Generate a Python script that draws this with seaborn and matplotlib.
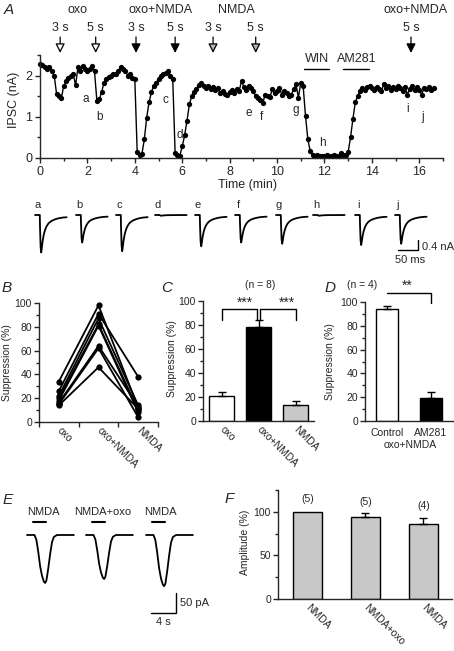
import numpy as np
import matplotlib
matplotlib.use('Agg')
import matplotlib.pyplot as plt
import pandas as pd
import seaborn as sns

# ---------------- data ----------------
# A: IPSC amplitude (nA), one point every 0.1 min from 0 to 16.6 min
ipsc_nA = [
    2.27, 2.25, 2.20, 2.15, 2.20, 2.10, 2.00, 1.55, 1.50, 1.45,
    1.75, 1.87, 1.95, 2.00, 2.05, 1.76, 2.20, 2.10, 2.24, 2.15,
    2.11, 2.15, 2.24, 2.10, 1.38, 1.42, 1.60, 1.83, 1.92, 1.97,
    2.00, 2.03, 2.05, 2.11, 2.20, 2.15, 2.11, 2.00, 2.05, 1.95,
    1.91, 0.15, 0.08, 0.10, 0.45, 0.98, 1.35, 1.60, 1.75, 1.83,
    1.91, 2.00, 2.03, 2.06, 2.11, 2.00, 1.91, 0.12, 0.08, 0.06,
    0.28, 0.55, 0.90, 1.30, 1.50, 1.60, 1.67, 1.78, 1.83, 1.75,
    1.71, 1.74, 1.68, 1.72, 1.65, 1.70, 1.58, 1.62, 1.55, 1.54,
    1.60, 1.65, 1.58, 1.68, 1.62, 1.87, 1.73, 1.66, 1.75, 1.70,
    1.62, 1.50, 1.46, 1.40, 1.34, 1.54, 1.50, 1.48, 1.67, 1.58,
    1.62, 1.71, 1.54, 1.63, 1.58, 1.50, 1.54, 1.67, 1.79, 1.46,
    1.83, 1.75, 1.02, 0.45, 0.16, 0.08, 0.06, 0.07, 0.05, 0.06,
    0.05, 0.07, 0.06, 0.05, 0.08, 0.06, 0.05, 0.12, 0.07, 0.08,
    0.15, 0.50, 0.95, 1.35, 1.50, 1.63, 1.70, 1.66, 1.72, 1.75,
    1.70, 1.65, 1.73, 1.68, 1.62, 1.79, 1.70, 1.74, 1.66, 1.72,
    1.68, 1.75, 1.70, 1.62, 1.72, 1.54, 1.68, 1.74, 1.66, 1.72,
    1.65, 1.54, 1.70, 1.68, 1.72, 1.66, 1.70,
]
arrow_times = [0.85, 2.35, 4.05, 5.7, 7.3, 9.1, 15.65]
arrow_durations = ['3 s', '5 s', '3 s', '5 s', '3 s', '5 s', '5 s']
arrow_fills = ['white', 'white', 'black', 'black', '#b4b4b4', '#b4b4b4', 'black']
group_names = ['oxo', 'oxo+NMDA', 'NMDA', 'oxo+NMDA']
group_times = [1.6, 5.1, 8.3, 15.85]
point_letters = list('abcdefghij')
point_letter_t = [1.95, 2.5, 5.3, 5.9, 8.8, 9.35, 10.8, 11.9, 15.5, 16.15]
point_letter_y = [1.44, 1.0, 1.4, 0.56, 1.1, 1.0, 1.17, 0.37, 1.2, 1.0]

# A insets: sample IPSCs (peak amplitude in nA) and the common waveform
trace_amp_nA = [1.5, 1.1, 1.45, 0.03, 1.25, 1.1, 1.15, 0.03, 1.2, 1.15]
ipsc_shape_ms = [-12, 0, 0.5, 2, 3.5, 5, 7, 10, 13, 17, 22, 29, 37, 46, 56, 67]
ipsc_shape = [0, 0, -0.3, -0.85, -1.0, -0.88, -0.7, -0.52, -0.4, -0.3,
              -0.22, -0.16, -0.12, -0.09, -0.07, -0.06]

# B: individual cells, suppression (%)
conditions = ['oxo', 'oxo+NMDA', 'NMDA']
cell_oxo = [34, 26, 22, 20, 18, 16, 15, 14]
cell_oxo_nmda = [98, 91, 87, 82, 81, 64, 62, 46]
cell_nmda = [12, 38, 14, 10, 8, 13, 4, 11]

# C: mean +/- SEM
c_mean = [21, 78.3, 13]
c_sem = [2.8, 6, 4]

# D
d_groups = ['Control', 'AM281']
d_mean = [94.4, 19.5]
d_sem = [2.2, 5]

# E: NMDA currents (pA) and waveform
nmda_labels = ['NMDA', 'NMDA+oxo', 'NMDA']
nmda_amp_pA = [120, 110, 128]
nmda_shape_s = [0, 1.2, 1.5, 1.8, 2.1, 2.4, 2.7, 2.9, 3.1, 3.4, 3.7, 4.0, 4.3, 4.8, 7.5]
nmda_shape = [0, 0, -0.1, -0.35, -0.65, -0.85, -0.97, -1.0, -0.95, -0.7,
              -0.4, -0.15, -0.04, 0, 0]

# F
f_groups = ['NMDA', 'NMDA+oxo', 'NMDA ']
f_mean = [100, 94.5, 85.5]
f_sem = [0, 4, 7]
f_n = ['(5)', '(5)', '(4)']

# ---------------- figure ----------------
sns.set_style('ticks')
plt.rcParams['font.family'] = ['Liberation Sans', 'DejaVu Sans']
plt.rcParams['axes.linewidth'] = 1.0

W, H = 454, 651
fig = plt.figure(figsize=(W / 100, H / 100), dpi=100)


def box(l, t, r, b):
    return fig.add_axes([l / W, 1 - b / H, (r - l) / W, (b - t) / H])


def ftext(x, y, s, **kw):
    kw.setdefault('ha', 'center')
    kw.setdefault('va', 'center')
    fig.text(x / W, 1 - y / H, s, **kw)


def panel_letter(x, y, s):
    ftext(x, y, s, fontsize=11, style='italic')


def small_axes(ax, size=7.5):
    sns.despine(ax=ax)
    ax.tick_params(which='major', direction='out', length=3.5, width=1, labelsize=size, pad=1.5)
    ax.tick_params(which='minor', direction='out', length=2, width=1)


def rotated_cats(ax, labels, size=7.5, boundary_ticks=False):
    n = len(labels)
    ax.set_xlim(-0.5, n - 0.5)
    if boundary_ticks:
        ax.set_xticks(np.arange(n + 1) - 0.5)
        ax.set_xticklabels([''] * (n + 1))
    else:
        ax.set_xticks([])
    ax.set_xticks(range(n), minor=True)
    ax.set_xticklabels(labels, minor=True)
    ax.tick_params(axis='x', which='minor', length=0, pad=5, labelsize=size)
    plt.setp(ax.get_xticklabels(minor=True), rotation=-45, ha='left', va='center',
             rotation_mode='anchor')


# ---- A: time course ----
axA = box(40, 55, 443, 158)
dfA = pd.DataFrame({'t': np.arange(len(ipsc_nA)) * 0.1, 'ipsc': ipsc_nA})
sns.lineplot(data=dfA, x='t', y='ipsc', ax=axA, color='k', lw=1, marker='o',
             markersize=3.8, markeredgewidth=0, errorbar=None, clip_on=False)
axA.set_xlim(0, 17)
axA.set_ylim(0, 2.5)
axA.set_xticks(range(0, 17, 2))
axA.set_xticks(range(0, 18), minor=True)
axA.set_yticks([0, 1, 2])
axA.set_yticks([0.5, 1.5, 2.5], minor=True)
sns.despine(ax=axA)
axA.tick_params(which='major', direction='out', length=3.5, width=1, labelsize=9, pad=2)
axA.tick_params(which='minor', direction='out', length=2.5, width=1)
axA.set_xlabel('Time (min)', fontsize=9)
axA.set_ylabel('IPSC (nA)', fontsize=9)
axA.xaxis.set_label_coords(0.514, -0.2)
axA.yaxis.set_label_coords(-0.05, 0.56)

trA = axA.get_xaxis_transform()
for t, lab, fc in zip(arrow_times, arrow_durations, arrow_fills):
    axA.annotate('', xy=(t, 1.02), xytext=(t, 1.175), xycoords=trA, textcoords=trA,
                 arrowprops=dict(arrowstyle='-|>,head_length=0.55,head_width=0.28',
                                 fc=fc, ec='k', lw=0.9, shrinkA=0, shrinkB=0))
    axA.text(t, 1.26, lab, transform=trA, ha='center', va='center', fontsize=9)
for name, t in zip(group_names, group_times):
    axA.text(t, 1.44, name, transform=trA, ha='center', va='center', fontsize=9)

axA.plot([11.15, 12.2], [2.15, 2.15], color='k', lw=1, clip_on=False)
axA.text(11.68, 2.4, 'WIN', ha='center', va='center', fontsize=9)
axA.plot([12.8, 13.87], [2.15, 2.15], color='k', lw=1, clip_on=False)
axA.text(13.35, 2.4, 'AM281', ha='center', va='center', fontsize=9)
for s, t, y in zip(point_letters, point_letter_t, point_letter_y):
    axA.text(t, y, s, ha='center', va='center', fontsize=8.5)
panel_letter(9, 10, 'A')

# ---- A insets: sample traces (x in ms, y in nA) ----
axT = box(0, 195, 454, 268)
axT.set_xlim(0, 454 * 2.5)
axT.set_ylim(-(268 - 215) * 0.04, (215 - 195) * 0.04)
axT.axis('off')
trace_start_px = [35, 76, 116, 155, 195, 235, 276, 313, 355, 395]
for s, amp, x0 in zip(point_letters, trace_amp_nA, trace_start_px):
    xs = np.array(ipsc_shape_ms) + 12 + x0 * 2.5
    ys = np.array(ipsc_shape) * amp
    sns.lineplot(x=xs, y=ys, ax=axT, color='k', lw=1.3, errorbar=None)
    ftext(x0 + 3, 205, s, fontsize=8)
axT.plot([1045, 1045, 995], [-1.0, -1.4, -1.4], color='k', lw=1, solid_joinstyle='miter')
ftext(422, 247, '0.4 nA', fontsize=8, ha='left')
ftext(410, 260, '50 ms', fontsize=8)

# ---- B: individual cells ----
axB = box(39, 303, 158, 422)
dfB = pd.DataFrame({
    'cell': np.tile(np.arange(len(cell_oxo)), 3),
    'pos': np.repeat([0, 1, 2], len(cell_oxo)),
    'supp': cell_oxo + cell_oxo_nmda + cell_nmda,
})
sns.lineplot(data=dfB, x='pos', y='supp', units='cell', estimator=None, ax=axB,
             color='k', lw=1.3, marker='o', markersize=4.5, markeredgewidth=0, clip_on=False)
axB.set_ylim(0, 100)
axB.set_yticks(range(0, 101, 20))
axB.set_yticks(range(0, 101, 10), minor=True)
small_axes(axB)
rotated_cats(axB, conditions, boundary_ticks=True)
axB.set_xlabel('')
axB.set_ylabel('Suppression (%)', fontsize=7.5)
axB.yaxis.set_label_coords(-0.23, 0.5)
panel_letter(7, 288, 'B')

# ---- C: means ----
axC = box(203, 301, 314, 421)
dfC = pd.DataFrame({'cond': conditions, 'supp': c_mean})
sns.barplot(data=dfC, x='cond', y='supp', hue='cond', palette=['white', 'black', '#c8c8c8'],
            width=0.68, edgecolor='k', linewidth=1, errorbar=None, legend=False, ax=axC)
axC.errorbar(range(3), c_mean, yerr=[np.zeros(3), c_sem], fmt='none', ecolor='k',
             elinewidth=1, capsize=3, capthick=1)
axC.set_ylim(0, 100)
axC.set_yticks(range(0, 101, 20))
axC.set_yticks(range(0, 101, 10), minor=True)
small_axes(axC)
rotated_cats(axC, conditions)
axC.set_xlabel('')
axC.set_ylabel('Suppression (%)', fontsize=7.5)
axC.yaxis.set_label_coords(-0.23, 0.52)
for xs in ([0, 0, 0.97, 0.97], [1.03, 1.03, 2, 2]):
    axC.plot(xs, [84, 93.3, 93.3, 84], color='k', lw=1, clip_on=False)
ftext(245, 303, '***', fontsize=10)
ftext(287, 303, '***', fontsize=10)
ftext(260, 285, '(n = 8)', fontsize=7.5)
panel_letter(167, 288, 'C')

# ---- D ----
axD = box(365, 302, 453, 421)
dfD = pd.DataFrame({'grp': d_groups, 'supp': d_mean})
sns.barplot(data=dfD, x='grp', y='supp', hue='grp', palette=['white', 'black'],
            width=0.5, edgecolor='k', linewidth=1, errorbar=None, legend=False, ax=axD)
axD.errorbar(range(2), d_mean, yerr=[np.zeros(2), d_sem], fmt='none', ecolor='k',
             elinewidth=1, capsize=3, capthick=1)
axD.set_ylim(0, 100)
axD.set_xlim(-0.5, 1.5)
axD.set_yticks(range(0, 101, 20))
axD.set_yticks(range(0, 101, 10), minor=True)
small_axes(axD)
axD.tick_params(axis='x', length=0, pad=5)
axD.set_xlabel('')
axD.set_ylabel('Suppression (%)', fontsize=7.5)
axD.yaxis.set_label_coords(-0.34, 0.5)
axD.plot([0, 1, 1], [107.5, 107.5, 99], color='k', lw=1, clip_on=False)
ftext(407, 286, '**', fontsize=10)
ftext(362, 285, '(n = 4)', fontsize=7.5)
ftext(410, 445, 'oxo+NMDA', fontsize=7.5)
panel_letter(330, 288, 'D')

# ---- E: NMDA currents (x in s, y in pA) ----
axE = box(0, 490, 200, 630)
axE.set_xlim(0, 200 * 0.16)
axE.set_ylim(-(630 - 535) * 2.5, (535 - 490) * 2.5)
axE.axis('off')
nmda_start_px = [27, 86, 146]
nmda_label_px = [43, 103, 160]
for lab, amp, x0, lx in zip(nmda_labels, nmda_amp_pA, nmda_start_px, nmda_label_px):
    t0 = x0 * 0.16
    sns.lineplot(x=np.array(nmda_shape_s) + t0, y=np.array(nmda_shape) * amp, ax=axE,
                 color='k', lw=1.3, errorbar=None)
    axE.plot([t0 + 1.0, t0 + 3.1], [32.5, 32.5], color='k', lw=1.5)
    ftext(lx, 512, lab, fontsize=8)
axE.plot([24.2, 28.2, 28.2], [-195, -195, -145], color='k', lw=1, solid_joinstyle='miter')
ftext(180, 603, '50 pA', fontsize=8, ha='left')
ftext(163, 622, '4 s', fontsize=8)
panel_letter(8, 500, 'E')

# ---- F ----
axF = box(278, 490, 452, 599)
dfF = pd.DataFrame({'grp': f_groups, 'amp': f_mean})
sns.barplot(data=dfF, x='grp', y='amp', color='#c8c8c8', width=0.5, edgecolor='k',
            linewidth=1, errorbar=None, ax=axF)
axF.errorbar([1, 2], f_mean[1:], yerr=[np.zeros(2), f_sem[1:]], fmt='none', ecolor='k',
             elinewidth=1, capsize=3, capthick=1)
axF.set_ylim(0, 125)
axF.set_yticks([0, 50, 100])
axF.set_yticks([25, 75, 125], minor=True)
small_axes(axF)
rotated_cats(axF, ['NMDA', 'NMDA+oxo', 'NMDA'])
axF.set_xlabel('')
axF.set_ylabel('Amplitude (%)', fontsize=7.5)
axF.yaxis.set_label_coords(-0.16, 0.52)
for n_lab, x, y in zip(f_n, [308, 366, 424], [499, 502, 506]):
    ftext(x, y, n_lab, fontsize=7.5)
panel_letter(229, 499, 'F')

fig.savefig('out.png', dpi=100)
